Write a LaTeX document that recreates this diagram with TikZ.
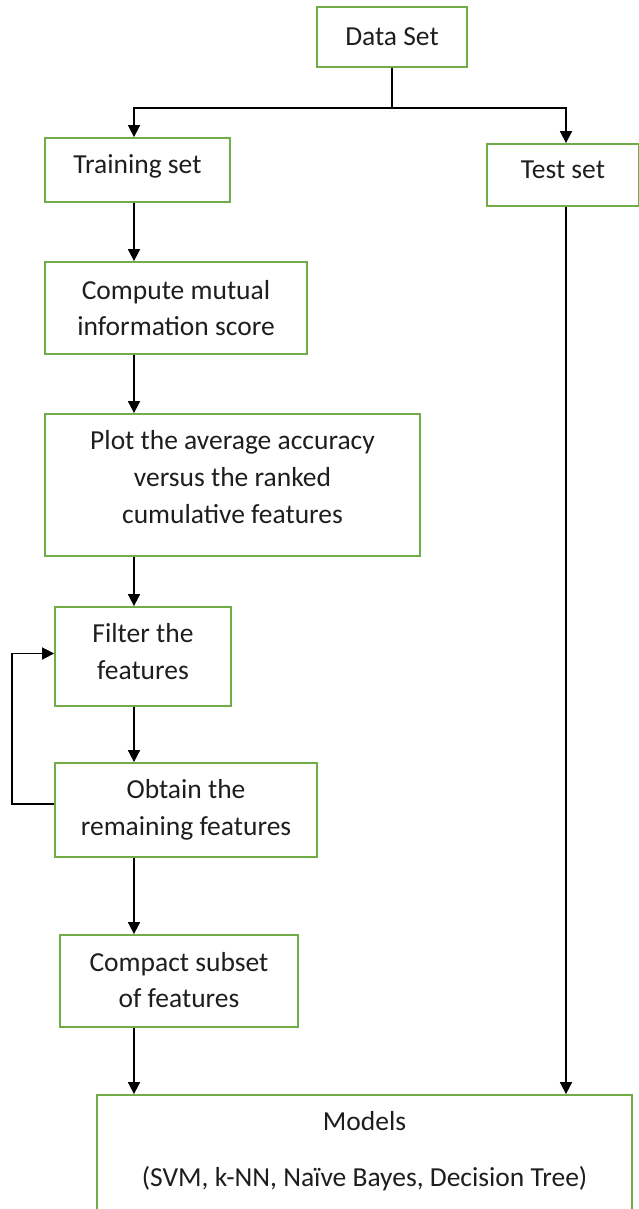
\documentclass[tikz,border=0pt]{standalone}
\usepackage{fontspec}
\setmainfont{Carlito}
\usepackage{tikz}
\usetikzlibrary{arrows.meta,positioning,calc}
\definecolor{boxgreen}{RGB}{112,173,71}
\definecolor{txtgray}{RGB}{30,30,30}

\begin{document}
\begin{tikzpicture}[x=1pt,y=-1pt,>={Triangle[length=12pt,width=12pt]},line width=1.7pt,
  procbox/.style={draw=boxgreen,line width=1.8pt,inner sep=0pt},
  lbl/.style={align=center,inner sep=0pt,text=txtgray},
  font=\fontsize{27.5}{36.7}\selectfont]
  \useasboundingbox (0,0) rectangle (638,1209);
  \node[procbox,minimum width=150pt,minimum height=60pt,label={[lbl]center:Data Set}] (data) at (392,37) {};
  \node[procbox,minimum width=185pt,minimum height=64pt,label={[lbl,yshift=4pt]center:Training set}] (train) at (137.5,170) {};
  \node[procbox,minimum width=152pt,minimum height=62pt,label={[lbl,yshift=5pt]center:Test set}] (test) at (563,175) {};
  \node[procbox,minimum width=262pt,minimum height=92pt,label={[lbl]center:Compute mutual\\information score}] (mi) at (176,308) {};
  \node[procbox,minimum width=375pt,minimum height=142pt,label={[lbl,yshift=8pt]center:Plot the average accuracy\\versus the ranked\\cumulative features}] (plot) at (232.5,485) {};
  \node[procbox,minimum width=176pt,minimum height=99pt,label={[lbl,yshift=5pt]center:Filter the\\features}] (filter) at (143,656.5) {};
  \node[procbox,minimum width=262pt,minimum height=94pt,label={[lbl]center:Obtain the\\remaining features}] (obtain) at (186,810) {};
  \node[procbox,minimum width=238pt,minimum height=92pt,label={[lbl,yshift=1pt]center:Compact subset\\of features}] (compact) at (179,981) {};
  \node[procbox,minimum width=535pt,minimum height=124pt,label={[lbl,yshift=6pt]center:Models\\[19pt](SVM, k-NN, Naïve Bayes, Decision Tree)}] (models) at (364.5,1157) {};
  % connectors
  \coordinate (lx) at (134,0);
  \coordinate (rx) at (566,0);
  \coordinate (split) at (0,108);
  \coordinate (loopx) at (12,0);
  \draw (data.south) -- (data.south |- split);
  \draw[->] (data.south |- split) -| (train.north -| lx);
  \draw[->] (data.south |- split) -| (test.north -| rx);
  \draw[->] (test.south -| rx) -- (models.north -| rx);
  \draw[->] (train.south -| lx) -- (mi.north -| lx);
  \draw[->] (mi.south -| lx) -- (plot.north -| lx);
  \draw[->] (plot.south -| lx) -- (filter.north -| lx);
  \draw[->] (filter.south -| lx) -- (obtain.north -| lx);
  \draw[->] (obtain.south -| lx) -- (compact.north -| lx);
  \draw[->] (compact.south -| lx) -- (models.north -| lx);
  \draw[->] ([yshift=6pt]obtain.west) -- ([yshift=6pt]obtain.west -| loopx) |- ([yshift=3pt]filter.west);
\end{tikzpicture}
\end{document}
